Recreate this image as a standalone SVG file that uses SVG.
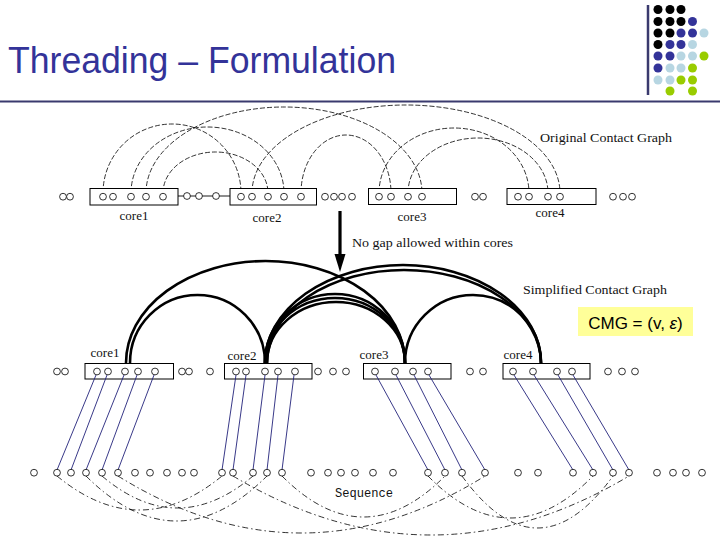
<svg xmlns="http://www.w3.org/2000/svg" width="720" height="540" viewBox="0 0 720 540">
<style>
.c{fill:#fff;stroke:#000;stroke-width:0.8}
.box{fill:#fff;stroke:#000;stroke-width:1}
.lbl{font-family:"Liberation Serif",serif;font-size:13px;fill:#111}
.top{fill:none;stroke:#000;stroke-width:0.8;stroke-dasharray:5 2}
.thick{fill:none;stroke:#000;stroke-width:2.6}
.blue{fill:none;stroke:#22227a;stroke-width:0.9}
.bot{fill:none;stroke:#000;stroke-width:0.8;stroke-dasharray:6 3 1.5 3}
.k{fill:#000}.d{fill:#333399}.l{fill:#b7d6e2}.g{fill:#99cc00}
</style>
<rect width="720" height="540" fill="#fff"/>

<g id="title">
<text x="8" y="73" font-family="Liberation Sans, Arial, sans-serif" font-size="36" fill="#333399" textLength="388" lengthAdjust="spacingAndGlyphs">Threading – Formulation</text>
<line x1="0" y1="101.5" x2="720" y2="101.5" stroke="#3a3a6e" stroke-width="2"/>
<line x1="648" y1="5" x2="648" y2="95" stroke="#3a3a6e" stroke-width="2.5"/>
</g>

<g id="dots">
<circle class="k" cx="658" cy="9.5" r="4.5"/><circle class="k" cx="670" cy="9.5" r="4.5"/><circle class="k" cx="681" cy="9.5" r="4.5"/>
<circle class="k" cx="658" cy="21.5" r="4.5"/><circle class="k" cx="670" cy="21.5" r="4.5"/><circle class="k" cx="681" cy="21.5" r="4.5"/><circle class="d" cx="692.5" cy="21.5" r="4.5"/>
<circle class="k" cx="658" cy="33" r="4.5"/><circle class="k" cx="670" cy="33" r="4.5"/><circle class="d" cx="681" cy="33" r="4.5"/><circle class="d" cx="692.5" cy="33" r="4.5"/><circle class="l" cx="704" cy="33" r="4.5"/>
<circle class="k" cx="658" cy="44.5" r="4.5"/><circle class="d" cx="670" cy="44.5" r="4.5"/><circle class="d" cx="681" cy="44.5" r="4.5"/><circle class="l" cx="692.5" cy="44.5" r="4.5"/>
<circle class="d" cx="658" cy="56" r="4.5"/><circle class="d" cx="670" cy="56" r="4.5"/><circle class="l" cx="681" cy="56" r="4.5"/><circle class="l" cx="692.5" cy="56" r="4.5"/><circle class="g" cx="704" cy="56" r="4.5"/>
<circle class="d" cx="658" cy="68" r="4.5"/><circle class="l" cx="670" cy="68" r="4.5"/><circle class="l" cx="681" cy="68" r="4.5"/><circle class="g" cx="692.5" cy="68" r="4.5"/>
<circle class="l" cx="658" cy="80" r="4.5"/><circle class="l" cx="670" cy="80" r="4.5"/><circle class="g" cx="681" cy="80" r="4.5"/><circle class="g" cx="692.5" cy="80" r="4.5"/>
<circle class="g" cx="670" cy="91" r="4.5"/><circle class="g" cx="692.5" cy="91" r="4.5"/>
</g>

<!-- Original contact graph -->
<g id="connectors-top">
<line x1="178" y1="196" x2="230" y2="196" stroke="#000" stroke-width="0.9"/>
<path class="top" d="M103,193 A69,69 0 0 1 241,193"/>
<path class="top" d="M131,193 A76.5,66 0 0 1 284,193"/>
<path class="top" d="M146,193 A138,86 0 0 1 422,193"/>
<path class="top" d="M163,193 A52.5,41 0 0 1 268,193"/>
<path class="top" d="M252,193 A154,88 0 0 1 560,193"/>
<path class="top" d="M301,193 A45,58 0 0 1 391,193"/>
<path class="top" d="M379,193 A75,65 0 0 1 529,193"/>
<path class="top" d="M408,193 A70,55 0 0 1 548,193"/>
</g>
<g id="top-core1">
<rect class="box" x="90" y="188.5" width="88" height="16.5"/>
<circle class="c" cx="103" cy="196.7" r="3.4"/><circle class="c" cx="113" cy="196.7" r="3.4"/><circle class="c" cx="131" cy="196.7" r="3.4"/><circle class="c" cx="146" cy="196.7" r="3.4"/><circle class="c" cx="163" cy="196.7" r="3.4"/>
<text class="lbl" x="134" y="220" text-anchor="middle">core1</text>
</g>
<g id="top-core2">
<rect class="box" x="230" y="188.5" width="86.5" height="16.5"/>
<circle class="c" cx="241" cy="196.7" r="3.4"/><circle class="c" cx="252" cy="196.7" r="3.4"/><circle class="c" cx="268" cy="196.7" r="3.4"/><circle class="c" cx="284" cy="196.7" r="3.4"/><circle class="c" cx="301" cy="196.7" r="3.4"/>
<text class="lbl" x="267" y="222" text-anchor="middle">core2</text>
</g>
<g id="top-core3">
<rect class="box" x="368.5" y="188.5" width="88" height="16"/>
<circle class="c" cx="379" cy="196.7" r="3.4"/><circle class="c" cx="391" cy="196.7" r="3.4"/><circle class="c" cx="408" cy="196.7" r="3.4"/><circle class="c" cx="422" cy="196.7" r="3.4"/>
<text class="lbl" x="412" y="221" text-anchor="middle">core3</text>
</g>
<g id="top-core4">
<rect class="box" x="507" y="188.5" width="89" height="16"/>
<circle class="c" cx="518" cy="196.7" r="3.4"/><circle class="c" cx="529" cy="196.7" r="3.4"/><circle class="c" cx="548" cy="196.7" r="3.4"/><circle class="c" cx="560" cy="196.7" r="3.4"/>
<text class="lbl" x="550" y="217" text-anchor="middle">core4</text>
</g>
<g id="top-loose">
<circle class="c" cx="63" cy="196.7" r="3.4"/><circle class="c" cx="70" cy="196.7" r="3.4"/>
<circle class="c" cx="187" cy="196" r="3.4"/><circle class="c" cx="199" cy="196" r="3.4"/><circle class="c" cx="216" cy="196" r="3.4"/>
<circle class="c" cx="325" cy="196.7" r="3.4"/><circle class="c" cx="334" cy="196.7" r="3.4"/><circle class="c" cx="342" cy="196.7" r="3.4"/><circle class="c" cx="352" cy="196.7" r="3.4"/>
<circle class="c" cx="475" cy="196.7" r="3.4"/><circle class="c" cx="483" cy="196.7" r="3.4"/>
<circle class="c" cx="613" cy="196.7" r="3.4"/><circle class="c" cx="623" cy="196.7" r="3.4"/><circle class="c" cx="632" cy="196.7" r="3.4"/>
</g>
<text class="lbl" x="540" y="142" textLength="132" lengthAdjust="spacingAndGlyphs">Original Contact Graph</text>

<g id="arrow">
<line x1="340" y1="211" x2="340" y2="258" stroke="#000" stroke-width="3.2"/>
<polygon points="334.5,254 345.5,254 340,272" fill="#000"/>
</g>
<text class="lbl" x="352" y="247" textLength="161" lengthAdjust="spacingAndGlyphs">No gap allowed within cores</text>

<!-- Simplified contact graph -->
<g id="connectors-mid">
<path class="thick" d="M130,363 A67.5,68 0 0 1 265,363"/>
<path class="thick" d="M126,363 A139.5,102 0 0 1 405,363"/>
<path class="thick" d="M265,363 A70,69 0 0 1 405,363"/>
<path class="thick" d="M265,363 A70,65 0 0 1 405,363" stroke-width="2"/>
<path class="thick" d="M267,363 A69,61 0 0 1 405,363" stroke-width="2"/>
<path class="thick" d="M265,363 A138,98 0 0 1 541,363"/>
<path class="thick" d="M267,363 A137,93 0 0 1 541,363" stroke-width="1.8"/>
<path class="thick" d="M405,363 A68,68 0 0 1 541,363"/>
</g>
<text class="lbl" x="523" y="294" textLength="144" lengthAdjust="spacingAndGlyphs">Simplified Contact Graph</text>
<g id="cmg">
<rect x="578" y="307" width="115" height="29" fill="#ffff99"/>
<text x="635.5" y="329" text-anchor="middle" font-family="Liberation Sans, Arial, sans-serif" font-size="17" fill="#000">CMG = (v, <tspan font-style="italic">ε</tspan>)</text>
</g>

<g id="mid-core1">
<rect class="box" x="85" y="363.5" width="88.5" height="15.5"/>
<circle class="c" cx="97" cy="371.5" r="3.4"/><circle class="c" cx="108" cy="371.5" r="3.4"/><circle class="c" cx="125" cy="371.5" r="3.4"/><circle class="c" cx="138" cy="371.5" r="3.4"/><circle class="c" cx="155" cy="371.5" r="3.4"/>
<text class="lbl" x="105" y="357" text-anchor="middle">core1</text>
</g>
<g id="mid-core2">
<rect class="box" x="224.5" y="363.5" width="87.5" height="15.5"/>
<circle class="c" cx="236" cy="371.5" r="3.4"/><circle class="c" cx="246" cy="371.5" r="3.4"/><circle class="c" cx="265" cy="371.5" r="3.4"/><circle class="c" cx="278" cy="371.5" r="3.4"/><circle class="c" cx="295" cy="371.5" r="3.4"/>
<text class="lbl" x="242" y="360" text-anchor="middle">core2</text>
</g>
<g id="mid-core3">
<rect class="box" x="363.5" y="363.5" width="87.5" height="15.5"/>
<circle class="c" cx="375" cy="371.5" r="3.4"/><circle class="c" cx="395" cy="371.5" r="3.4"/><circle class="c" cx="413" cy="371.5" r="3.4"/><circle class="c" cx="428" cy="371.5" r="3.4"/>
<text class="lbl" x="374" y="359" text-anchor="middle">core3</text>
</g>
<g id="mid-core4">
<rect class="box" x="503" y="363.5" width="87" height="15.5"/>
<circle class="c" cx="513" cy="371.5" r="3.4"/><circle class="c" cx="533" cy="371.5" r="3.4"/><circle class="c" cx="557" cy="371.5" r="3.4"/><circle class="c" cx="572" cy="371.5" r="3.4"/>
<text class="lbl" x="518" y="359" text-anchor="middle">core4</text>
</g>
<g id="mid-loose">
<circle class="c" cx="57" cy="371.5" r="3.4"/><circle class="c" cx="65" cy="371.5" r="3.4"/>
<circle class="c" cx="182" cy="371.5" r="3.4"/><circle class="c" cx="189" cy="371.5" r="3.4"/><circle class="c" cx="210" cy="371.5" r="3.4"/>
<circle class="c" cx="318" cy="371.5" r="3.4"/><circle class="c" cx="333" cy="371.5" r="3.4"/><circle class="c" cx="346" cy="371.5" r="3.4"/>
<circle class="c" cx="470" cy="371.5" r="3.4"/><circle class="c" cx="483" cy="371.5" r="3.4"/>
<circle class="c" cx="608" cy="371.5" r="3.4"/><circle class="c" cx="622" cy="371.5" r="3.4"/><circle class="c" cx="635" cy="371.5" r="3.4"/>
</g>

<!-- threading lines -->
<g id="connectors-thread">
<line class="blue" x1="96" y1="375" x2="57" y2="470"/>
<line class="blue" x1="107" y1="375" x2="71" y2="470"/>
<line class="blue" x1="124" y1="375" x2="86" y2="470"/>
<line class="blue" x1="137" y1="375" x2="102" y2="470"/>
<line class="blue" x1="154" y1="375" x2="118" y2="470"/>
<line class="blue" x1="236" y1="375" x2="222" y2="470"/>
<line class="blue" x1="246" y1="375" x2="233" y2="470"/>
<line class="blue" x1="265" y1="375" x2="253" y2="470"/>
<line class="blue" x1="278" y1="375" x2="267" y2="470"/>
<line class="blue" x1="294" y1="375" x2="282" y2="470"/>
<line class="blue" x1="376" y1="375" x2="428" y2="470"/>
<line class="blue" x1="396" y1="375" x2="445" y2="470"/>
<line class="blue" x1="414" y1="375" x2="462" y2="470"/>
<line class="blue" x1="429" y1="375" x2="485" y2="470"/>
<line class="blue" x1="514" y1="375" x2="573" y2="470"/>
<line class="blue" x1="534" y1="375" x2="593" y2="470"/>
<line class="blue" x1="558" y1="375" x2="613" y2="470"/>
<line class="blue" x1="573" y1="375" x2="629" y2="470"/>
</g>

<!-- sequence contacts -->
<g id="connectors-seq">
<path class="bot" d="M57,476 Q139.5,544 222,476"/>
<path class="bot" d="M86,476 Q176.5,566 267,476"/>
<path class="bot" d="M102,476 Q177.5,540 253,476"/>
<path class="bot" d="M118,476 Q301.5,590 485,476"/>
<path class="bot" d="M233,476 Q431,594 629,476"/>
<path class="bot" d="M282,476 Q363.5,558 445,476"/>
<path class="bot" d="M428,476 Q510.5,560 593,476"/>
<path class="bot" d="M462,476 Q537.5,580 613,476"/>
</g>

<g id="sequence">
<circle class="c" cx="34" cy="472.7" r="3.4"/><circle class="c" cx="57" cy="472.7" r="3.4"/><circle class="c" cx="71" cy="472.7" r="3.4"/><circle class="c" cx="86" cy="472.7" r="3.4"/><circle class="c" cx="102" cy="472.7" r="3.4"/><circle class="c" cx="118" cy="472.7" r="3.4"/>
<circle class="c" cx="135" cy="472.7" r="3.4"/><circle class="c" cx="150" cy="472.7" r="3.4"/><circle class="c" cx="167" cy="472.7" r="3.4"/><circle class="c" cx="182" cy="472.7" r="3.4"/><circle class="c" cx="194" cy="472.7" r="3.4"/>
<circle class="c" cx="222" cy="472.7" r="3.4"/><circle class="c" cx="233" cy="472.7" r="3.4"/><circle class="c" cx="253" cy="472.7" r="3.4"/><circle class="c" cx="267" cy="472.7" r="3.4"/><circle class="c" cx="282" cy="472.7" r="3.4"/>
<circle class="c" cx="311" cy="472.7" r="3.4"/><circle class="c" cx="328" cy="472.7" r="3.4"/><circle class="c" cx="341" cy="472.7" r="3.4"/><circle class="c" cx="355" cy="472.7" r="3.4"/><circle class="c" cx="373" cy="472.7" r="3.4"/><circle class="c" cx="393" cy="472.7" r="3.4"/>
<circle class="c" cx="428" cy="472.7" r="3.4"/><circle class="c" cx="445" cy="472.7" r="3.4"/><circle class="c" cx="462" cy="472.7" r="3.4"/><circle class="c" cx="485" cy="472.7" r="3.4"/>
<circle class="c" cx="518" cy="472.7" r="3.4"/><circle class="c" cx="538" cy="472.7" r="3.4"/>
<circle class="c" cx="573" cy="472.7" r="3.4"/><circle class="c" cx="593" cy="472.7" r="3.4"/><circle class="c" cx="613" cy="472.7" r="3.4"/><circle class="c" cx="629" cy="472.7" r="3.4"/>
<circle class="c" cx="657" cy="472.7" r="3.4"/><circle class="c" cx="673" cy="472.7" r="3.4"/><circle class="c" cx="686" cy="472.7" r="3.4"/><circle class="c" cx="702" cy="472.7" r="3.4"/>
</g>
<text x="335" y="497" font-family="Liberation Mono, monospace" font-size="12" fill="#111" textLength="58" lengthAdjust="spacingAndGlyphs">Sequence</text>
</svg>
